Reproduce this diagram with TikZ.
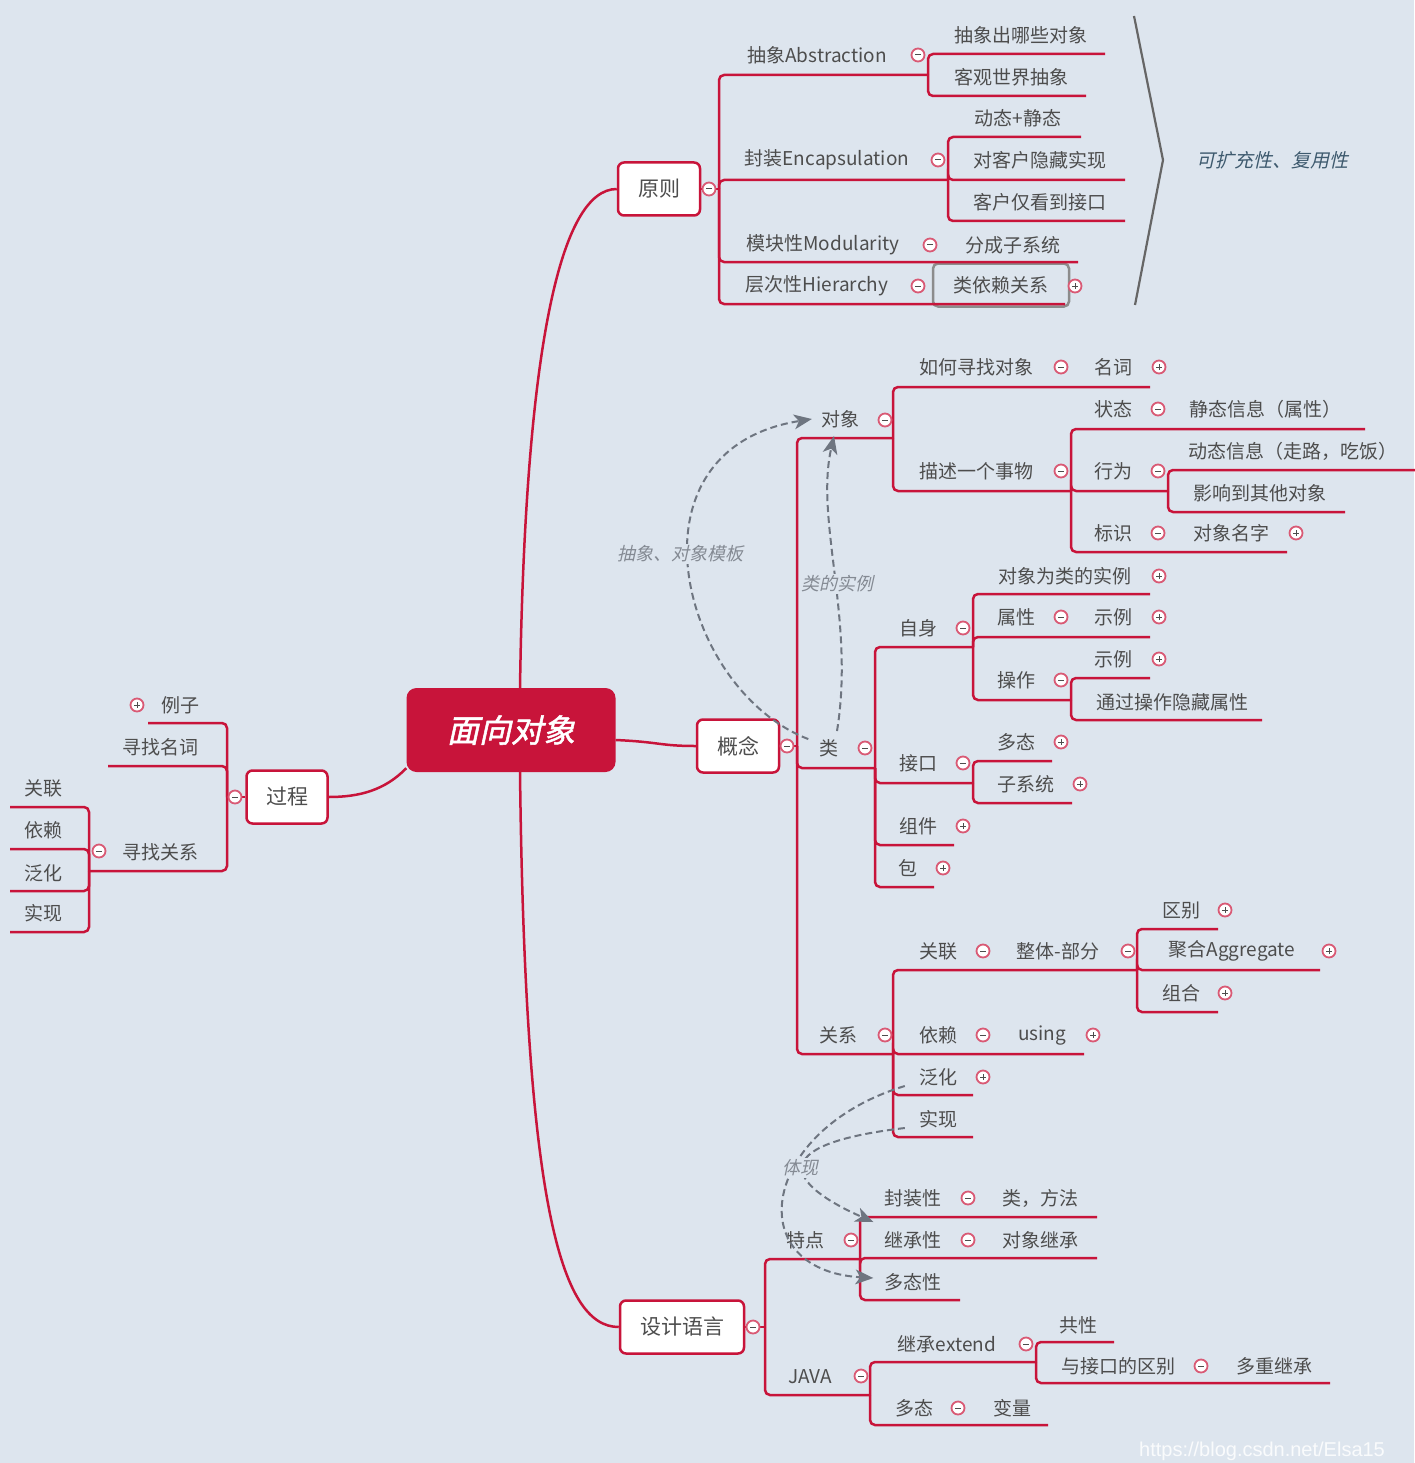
\documentclass[tikz,border=0pt]{standalone}
\usepackage{fontspec}
\setmainfont{Noto Sans CJK SC}
\newfontfamily\slantfont[FakeSlant=0.22]{Noto Sans CJK SC}
\newfontfamily\rootfont[FakeSlant=0.22,FakeBold=1.6]{Noto Sans CJK SC}
\newfontfamily\wmfont{Liberation Sans}
\usetikzlibrary{arrows.meta}

\definecolor{bgc}{HTML}{DDE5EE}
\definecolor{xred}{HTML}{C8143A}
\definecolor{txt}{HTML}{4D4D4D}
\definecolor{dashc}{HTML}{6E7580}
\definecolor{notec}{HTML}{3E5A6E}

\tikzset{
  topic/.style={text=txt, font=\fontsize{19}{19}\selectfont, inner sep=0pt},
  mainbox/.style={draw=xred, fill=white, line width=2.5pt, rounded corners=6pt,
    text=txt, font=\fontsize{21}{21}\selectfont, minimum height=53pt},
  rootbox/.style={fill=xred, rounded corners=10pt, minimum width=209pt,
    minimum height=84pt, text=white, font=\rootfont\fontsize{32}{32}\selectfont},
  selbox/.style={draw=black!45, line width=2.5pt, rounded corners=5pt,
    minimum width=136pt, minimum height=43pt},
  branch/.style={draw=xred, line width=2.5pt, rounded corners=5pt},
  fold/.style={circle, draw=xred!70, fill=white, line width=1.8pt,
    minimum size=13pt, inner sep=0pt,
    path picture={\draw[txt, line width=1pt]
      ([xshift=-3pt]path picture bounding box.center) --
      ([xshift=3pt]path picture bounding box.center);}},
  unfold/.style={fold,
    path picture={\draw[txt, line width=1pt]
      ([xshift=-3pt]path picture bounding box.center) --
      ([xshift=3pt]path picture bounding box.center)
      ([yshift=-3pt]path picture bounding box.center) --
      ([yshift=3pt]path picture bounding box.center);}},
  dashlink/.style={draw=dashc, line width=2pt, dash pattern=on 7pt off 4pt,
    -{Stealth[length=18pt,width=15pt,inset=5pt,line width=0pt]}},
  dashnote/.style={fill=bgc, inner sep=2pt, text=dashc!85,
    font=\slantfont\fontsize{18}{18}\selectfont},
  note/.style={text=notec, inner sep=0pt, font=\slantfont\fontsize{19}{19}\selectfont},
}

\begin{document}
\begin{tikzpicture}[x=1pt, y=-1pt]
\useasboundingbox (0,0) rectangle (1414,1463);
\fill[bgc] (0,0) rectangle (1414,1463);

% centre and main topics
\node[rootbox] (root) at (511,730) {面向对象};
\node[mainbox, minimum width=82pt] (yz) at (659,189) {原则};
\node[mainbox, minimum width=82pt] (gn) at (738,746) {概念};
\node[mainbox, minimum width=81pt] (gc) at (287,797) {过程};
\node[mainbox, minimum width=124pt] (sj) at (682,1327) {设计语言};

% 原则
\node[topic] (cx) at (817,55) {抽象Abstraction};
\node[topic] (cx1) at (1021,35) {抽象出哪些对象};
\node[topic] (cx2) at (1011,77) {客观世界抽象};
\node[topic] (fz) at (827,160) {封装Encapsulation};
\node[topic] (fz1) at (1018,118) {动态+静态};
\node[topic] (fz2) at (1040,160) {对客户隐藏实现};
\node[topic] (fz3) at (1040,202) {客户仅看到接口};
\node[topic] (mk) at (823,245) {模块性Modularity};
\node[topic] (mk1) at (1013,245) {分成子系统};
\node[topic] (cc) at (817,286) {层次性Hierarchy};
\node[topic, selbox] (cc1) at (1001,285) {类依赖关系};
\node[note] (kk) at (1272,160) {可扩充性、复用性};

% 概念 / 对象
\node[topic] (dx) at (840,419) {对象};
\node[topic] (rh) at (976,367) {如何寻找对象};
\node[topic] (mc) at (1113,367) {名词};
\node[topic] (ms) at (976,471) {描述一个事物};
\node[topic] (zt) at (1113,409) {状态};
\node[topic] (zt1) at (1265,409) {静态信息（属性）};
\node[topic] (xw) at (1113,471) {行为};
\node[topic] (xw1) at (1293,451) {动态信息（走路，吃饭）};
\node[topic] (xw2) at (1260,493) {影响到其他对象};
\node[topic] (bs) at (1113,533) {标识};
\node[topic] (bs1) at (1231,533) {对象名字};

% 概念 / 类
\node[topic] (lei) at (829,748) {类};
\node[topic] (zs) at (918,628) {自身};
\node[topic] (zs1) at (1065,576) {对象为类的实例};
\node[topic] (sx) at (1016,617) {属性};
\node[topic] (sx1) at (1113,617) {示例};
\node[topic] (cz) at (1016,680) {操作};
\node[topic] (cz1) at (1113,659) {示例};
\node[topic] (cz2) at (1172,702) {通过操作隐藏属性};
\node[topic] (jk) at (918,763) {接口};
\node[topic] (jk1) at (1016,742) {多态};
\node[topic] (jk2) at (1026,784) {子系统};
\node[topic] (zj) at (918,826) {组件};
\node[topic] (bao) at (908,868) {包};

% 概念 / 关系
\node[topic] (gx) at (838,1035) {关系};
\node[topic] (gl) at (938,951) {关联};
\node[topic] (zb) at (1058,951) {整体-部分};
\node[topic] (qb) at (1181,910) {区别};
\node[topic] (jh) at (1232,951) {聚合Aggregate};
\node[topic] (zh) at (1181,993) {组合};
\node[topic] (yl) at (938,1035) {依赖};
\node[topic] (us) at (1042,1035) {using};
\node[topic] (fh) at (938,1077) {泛化};
\node[topic] (sxian) at (938,1119) {实现};

% 设计语言
\node[topic] (td) at (805,1240) {特点};
\node[topic] (fzx) at (913,1198) {封装性};
\node[topic] (ff) at (1040,1198) {类，方法};
\node[topic] (jcx) at (913,1240) {继承性};
\node[topic] (dxjc) at (1040,1240) {对象继承};
\node[topic] (dtx) at (913,1282) {多态性};
\node[topic] (java) at (810,1377) {JAVA};
\node[topic] (jc) at (947,1344) {继承extend};
\node[topic] (gxing) at (1078,1325) {共性};
\node[topic] (qbjk) at (1118,1366) {与接口的区别};
\node[topic] (dcjc) at (1274,1366) {多重继承};
\node[topic] (dt) at (914,1408) {多态};
\node[topic] (bl) at (1012,1408) {变量};

% 过程
\node[topic] (lz) at (180,705) {例子};
\node[topic] (xm) at (160,747) {寻找名词};
\node[topic] (xg) at (160,852) {寻找关系};
\node[topic] (gl2) at (43,788) {关联};
\node[topic] (yl2) at (43,830) {依赖};
\node[topic] (fh2) at (43,873) {泛化};
\node[topic] (sx2) at (43,913) {实现};

% forks and underline ends
\coordinate (yz-f) at (719,189);
\coordinate (cx-e) at (928,75);
\coordinate (cx1-e) at (1105,54);
\coordinate (cx2-e) at (1086,96);
\coordinate (fz-e) at (948,180);
\coordinate (fz1-e) at (1081,137);
\coordinate (fz2-e) at (1125,180);
\coordinate (fz3-e) at (1125,221);
\coordinate (mk-e) at (1078,262);
\coordinate (cc-e) at (1065,304);

\coordinate (gn-f) at (797,746);
\coordinate (dx-e) at (893,438);
\coordinate (rh-e) at (1150,387);
\coordinate (ms-e) at (1071,491);
\coordinate (zt-e) at (1365,429);
\coordinate (xw-e) at (1168,491);
\coordinate (xw1-e) at (1420,470);
\coordinate (xw2-e) at (1345,512);
\coordinate (bs-e) at (1287,552);
\coordinate (lei-e) at (875,768);
\coordinate (zs-e) at (973,647);
\coordinate (zs1-e) at (1150,594);
\coordinate (sx-e) at (1150,637);
\coordinate (cz-e) at (1071,700);
\coordinate (cz1-e) at (1150,678);
\coordinate (cz2-e) at (1262,720);
\coordinate (jk-e) at (973,783);
\coordinate (jk1-e) at (1052,761);
\coordinate (jk2-e) at (1072,803);
\coordinate (zj-e) at (954,845);
\coordinate (bao-e) at (934,887);
\coordinate (gx-e) at (893,1054);
\coordinate (gl-e) at (1137,970);
\coordinate (qb-e) at (1218,929);
\coordinate (jh-e) at (1320,970);
\coordinate (zh-e) at (1218,1012);
\coordinate (yl-e) at (1084,1054);
\coordinate (fh-e) at (973,1095);
\coordinate (sxian-e) at (973,1137);

\coordinate (sj-f) at (765,1327);
\coordinate (td-e) at (860,1259);
\coordinate (fzx-e) at (1097,1217);
\coordinate (jcx-e) at (1097,1258);
\coordinate (dtx-e) at (960,1300);
\coordinate (java-e) at (870,1395);
\coordinate (jc-e) at (1036,1362);
\coordinate (gxing-e) at (1114,1342);
\coordinate (qbjk-e) at (1330,1383);
\coordinate (dt-e) at (1048,1425);

\coordinate (gc-f) at (227,797);
\coordinate (lz-e) at (148,723);
\coordinate (xm-e) at (108,766);
\coordinate (xg-e) at (89,871);
\coordinate (gl2-e) at (10,807);
\coordinate (yl2-e) at (10,849);
\coordinate (fh2-e) at (10,891);
\coordinate (sx2-e) at (10,932);

% links from the centre
\draw[branch] ([xshift=9pt]root.north) .. controls (525,350) and (560,189) .. (yz.west);
\draw[branch] ([xshift=9pt]root.south) .. controls (525,1200) and (560,1327) .. (sj.west);
\draw[branch] ([yshift=-10pt]root.east) .. controls (660,742) and (660,746) .. (gn.west);
\draw[branch] ([yshift=4pt]root.south west) .. controls (385,790) and (360,797) .. (gc.east);

% branches
\draw[branch] (yz.east) -- (yz-f);
\foreach \c in {cx,fz,mk,cc} \draw[branch] (yz-f) |- (\c-e);
\foreach \c in {cx1,cx2} \draw[branch] (cx-e) |- (\c-e);
\foreach \c in {fz1,fz2,fz3} \draw[branch] (fz-e) |- (\c-e);

\draw[branch] (gn.east) -- (gn-f);
\foreach \c in {dx,lei,gx} \draw[branch] (gn-f) |- (\c-e);
\foreach \c in {rh,ms} \draw[branch] (dx-e) |- (\c-e);
\foreach \c in {zt,xw,bs} \draw[branch] (ms-e) |- (\c-e);
\foreach \c in {xw1,xw2} \draw[branch] (xw-e) |- (\c-e);
\foreach \c in {zs,jk,zj,bao} \draw[branch] (lei-e) |- (\c-e);
\foreach \c in {zs1,sx,cz} \draw[branch] (zs-e) |- (\c-e);
\foreach \c in {cz1,cz2} \draw[branch] (cz-e) |- (\c-e);
\foreach \c in {jk1,jk2} \draw[branch] (jk-e) |- (\c-e);
\foreach \c in {gl,yl,fh,sxian} \draw[branch] (gx-e) |- (\c-e);
\foreach \c in {qb,jh,zh} \draw[branch] (gl-e) |- (\c-e);

\draw[branch] (sj.east) -- (sj-f);
\foreach \c in {td,java} \draw[branch] (sj-f) |- (\c-e);
\foreach \c in {fzx,jcx,dtx} \draw[branch] (td-e) |- (\c-e);
\foreach \c in {jc,dt} \draw[branch] (java-e) |- (\c-e);
\foreach \c in {gxing,qbjk} \draw[branch] (jc-e) |- (\c-e);

\draw[branch] (gc.west) -- (gc-f);
\foreach \c in {lz,xm,xg} \draw[branch] (gc-f) |- (\c-e);
\foreach \c in {gl2,yl2,fh2,sx2} \draw[branch] (xg-e) |- (\c-e);

% brace
\coordinate (br-t) at (1134,16);
\coordinate (br-m) at (1163,160);
\coordinate (br-b) at (1135,305);
\draw[black!60, line width=2.2pt] (br-t) -- (br-m) -- (br-b);

% dashed relations
\draw[dashlink] ([xshift=-11pt]lei.north west) .. controls (680,690) and (620,450) .. ([xshift=-9pt]dx.west);
\draw[dashlink] ([xshift=8pt,yshift=8pt]lei.north) .. controls (855,620) and (815,520) .. ([xshift=-6pt,yshift=-8pt]dx.south);
\draw[dashlink] ([xshift=-14pt,yshift=-9pt]fh.west) .. controls (760,1130) and (740,1270) .. ([xshift=-11pt,yshift=4pt]dtx.west);
\draw[dashlink] ([xshift=-14pt,yshift=-9pt]sxian.west) .. controls (760,1145) and (790,1185) .. ([xshift=-11pt,yshift=18pt]jcx.west);
\node[dashnote] (cxmb) at (680,554) {抽象、对象模板};
\node[dashnote] (sl) at (837,584) {类的实例};
\node[dashnote] (tx) at (800,1168) {体现};

% fold markers
\node[fold] (yz-m) at (709,189) {};
\node[fold] (gn-m) at (787,746) {};
\node[fold] (gc-m) at (235,797) {};
\node[fold] (sj-m) at (753,1327) {};
\node[fold] (cx-m) at (918,55) {};
\node[fold] (fz-m) at (938,160) {};
\node[fold] (mk-m) at (930,245) {};
\node[fold] (cc-m) at (918,286) {};
\node[unfold] (cc1-p) at (1075,286) {};
\node[fold] (dx-m) at (885,420) {};
\node[fold] (rh-m) at (1061,367) {};
\node[unfold] (mc-p) at (1159,367) {};
\node[fold] (ms-m) at (1061,471) {};
\node[fold] (zt-m) at (1158,409) {};
\node[fold] (xw-m) at (1158,471) {};
\node[fold] (bs-m) at (1158,533) {};
\node[unfold] (bs1-p) at (1296,533) {};
\node[fold] (lei-m) at (865,748) {};
\node[fold] (zs-m) at (963,628) {};
\node[unfold] (zs1-p) at (1159,576) {};
\node[fold] (sx-m) at (1061,617) {};
\node[unfold] (sx1-p) at (1159,617) {};
\node[fold] (cz-m) at (1061,680) {};
\node[unfold] (cz1-p) at (1159,659) {};
\node[fold] (jk-m) at (963,763) {};
\node[unfold] (jk1-p) at (1061,742) {};
\node[unfold] (jk2-p) at (1080,784) {};
\node[unfold] (zj-p) at (963,826) {};
\node[unfold] (bao-p) at (943,868) {};
\node[fold] (gx-m) at (885,1035) {};
\node[fold] (gl-m) at (983,951) {};
\node[fold] (zb-m) at (1128,951) {};
\node[unfold] (qb-p) at (1225,910) {};
\node[unfold] (jh-p) at (1329,951) {};
\node[unfold] (zh-p) at (1225,993) {};
\node[fold] (yl-m) at (983,1035) {};
\node[unfold] (us-p) at (1093,1035) {};
\node[unfold] (fh-p) at (983,1077) {};
\node[fold] (td-m) at (851,1240) {};
\node[fold] (fzx-m) at (968,1198) {};
\node[fold] (jcx-m) at (968,1240) {};
\node[fold] (java-m) at (861,1376) {};
\node[fold] (jc-m) at (1026,1344) {};
\node[fold] (qbjk-m) at (1201,1366) {};
\node[fold] (dt-m) at (958,1408) {};
\node[unfold] (lz-p) at (137,705) {};
\node[fold] (xg-m) at (99,851) {};

% watermark
\node[text=white, opacity=0.85, inner sep=0pt, font=\wmfont\fontsize{20}{20}\selectfont] (wm) at (1262,1451) {https://blog.csdn.net/Elsa15};
\end{tikzpicture}
\end{document}
